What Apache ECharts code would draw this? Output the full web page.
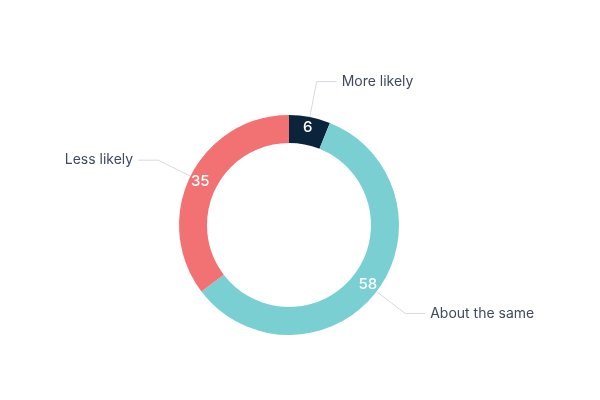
<!DOCTYPE html>
<html>
<head>
<meta charset="utf-8">
<script src="https://cdn.jsdelivr.net/npm/echarts@6/dist/echarts.min.js"></script>
<style>
  html, body { margin: 0; padding: 0; background: #fff; }
  #chart { width: 600px; height: 400px; }
</style>
</head>
<body>
<div id="chart"></div>
<script>
// survey answers
const categories = ['More likely', 'About the same', 'Less likely'];
const values = [6, 58, 35];
const colors = ['#0b243b', '#7acfd3', '#f27173'];

const pieData = categories.map((name, i) => ({
    name: name,
    value: values[i],
    itemStyle: { color: colors[i] }
}));

const chart = echarts.init(document.getElementById('chart'));

chart.setOption({
    animation: false,
    textStyle: { fontFamily: 'Inter, "Noto Sans", sans-serif' },
    series: [
        {
            // ring with value labels inside
            type: 'pie',
            center: [289, 225],
            radius: [82, 110],
            startAngle: 90,
            clockwise: true,
            avoidLabelOverlap: false,
            data: pieData,
            label: {
                position: 'inside',
                formatter: '{c}',
                color: '#fff',
                fontSize: 15,
                fontWeight: 500,
                fontFamily: 'Inter, "Noto Sans", sans-serif'
            },
            labelLine: { show: false }
        },
        {
            // transparent copy for the outer name labels
            type: 'pie',
            center: [289, 225],
            radius: [82, 110],
            startAngle: 90,
            clockwise: true,
            silent: true,
            data: pieData.map(d => ({ name: d.name, value: d.value })),
            itemStyle: { color: 'rgba(0,0,0,0)' },
            label: {
                position: 'outside',
                formatter: '{b}',
                color: '#3f4a5a',
                fontSize: 14,
                fontFamily: 'Inter, "Noto Sans", sans-serif'
            },
            labelLine: {
                length: 36,
                length2: 20,
                lineStyle: { color: '#d5dae0', width: 1 }
            }
        }
    ]
});
</script>
</body>
</html>
